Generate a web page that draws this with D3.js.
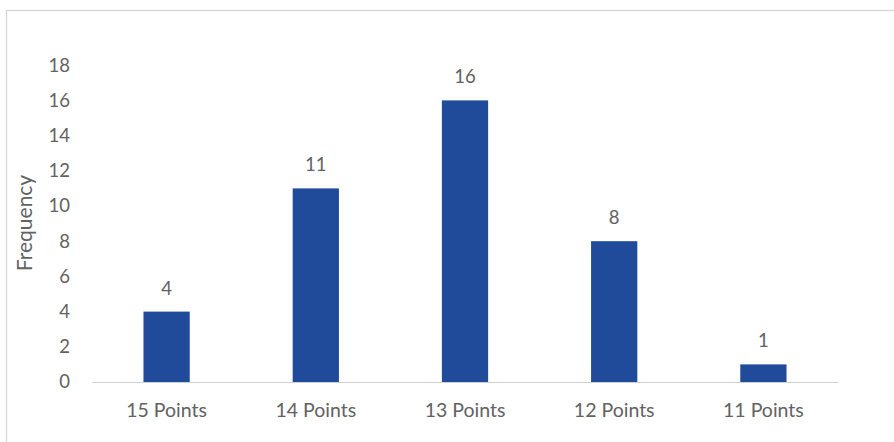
<!DOCTYPE html>
<html>
<head>
<meta charset="utf-8">
<script src="https://cdn.jsdelivr.net/npm/d3@7"></script>
<style>
  html, body { margin: 0; padding: 0; background: #fff; }
  svg { display: block; }
  text { font-family: Lato, "Open Sans", sans-serif; fill: #626262; }
</style>
</head>
<body>
<svg id="chart" width="894" height="442"></svg>
<script>
const categories = ["15 Points", "14 Points", "13 Points", "12 Points", "11 Points"];
const frequencies = [4, 11, 16, 8, 1];
const yTicks = [0, 2, 4, 6, 8, 10, 12, 14, 16, 18];
const yTitle = "Frequency";

const svg = d3.select("#chart");
const W = 894, H = 442;
const plot = { left: 92, right: 838, top: 64, bottom: 382 };
const FONT = "Lato, 'Open Sans', sans-serif";

// chart frame
svg.append("rect")
  .attr("x", 6.5).attr("y", 10.5)
  .attr("width", W + 20).attr("height", H + 20)
  .attr("fill", "none").attr("stroke", "#d4d4d4").attr("stroke-width", 1.2);

const x = d3.scaleBand().domain(categories)
  .range([plot.left, plot.right]).paddingInner(0.69).paddingOuter(0.345);
const y = d3.scaleLinear().domain([0, 18]).range([plot.bottom, plot.bottom - 18 * 17.6]);

// y axis labels (no axis line)
const yAxis = svg.append("g")
  .attr("transform", `translate(${plot.left},0)`)
  .call(d3.axisLeft(y).tickValues(yTicks).tickSize(0).tickPadding(22));
yAxis.select(".domain").remove();
yAxis.selectAll("text").attr("font-size", 18.5).attr("fill", "#626262")
  .style("font-family", FONT);

// bars
svg.append("g").selectAll("rect")
  .data(frequencies)
  .join("rect")
  .attr("x", (d, i) => x(categories[i]))
  .attr("y", d => y(d))
  .attr("width", x.bandwidth())
  .attr("height", d => y(0) - y(d))
  .attr("fill", "#1f4b9a");

// baseline
const xAxis = svg.append("g")
  .attr("transform", `translate(0,${y(0)})`)
  .call(d3.axisBottom(x).tickSize(0).tickPadding(21));
xAxis.select(".domain").attr("stroke", "#d0d0d0").attr("stroke-width", 1.2);
xAxis.selectAll("text").attr("font-size", 19.5).attr("fill", "#626262")
  .style("font-family", FONT);

// value labels
svg.append("g").selectAll("text")
  .data(frequencies)
  .join("text")
  .attr("x", (d, i) => x(categories[i]) + x.bandwidth() / 2)
  .attr("y", d => y(d) - 17)
  .attr("text-anchor", "middle")
  .attr("font-size", 18.5)
  .text(d => d);

// y axis title
svg.append("text")
  .attr("transform", `translate(32,${(plot.top + plot.bottom) / 2}) rotate(-90)`)
  .attr("text-anchor", "middle")
  .attr("font-size", 21)
  .text(yTitle);
</script>
</body>
</html>
